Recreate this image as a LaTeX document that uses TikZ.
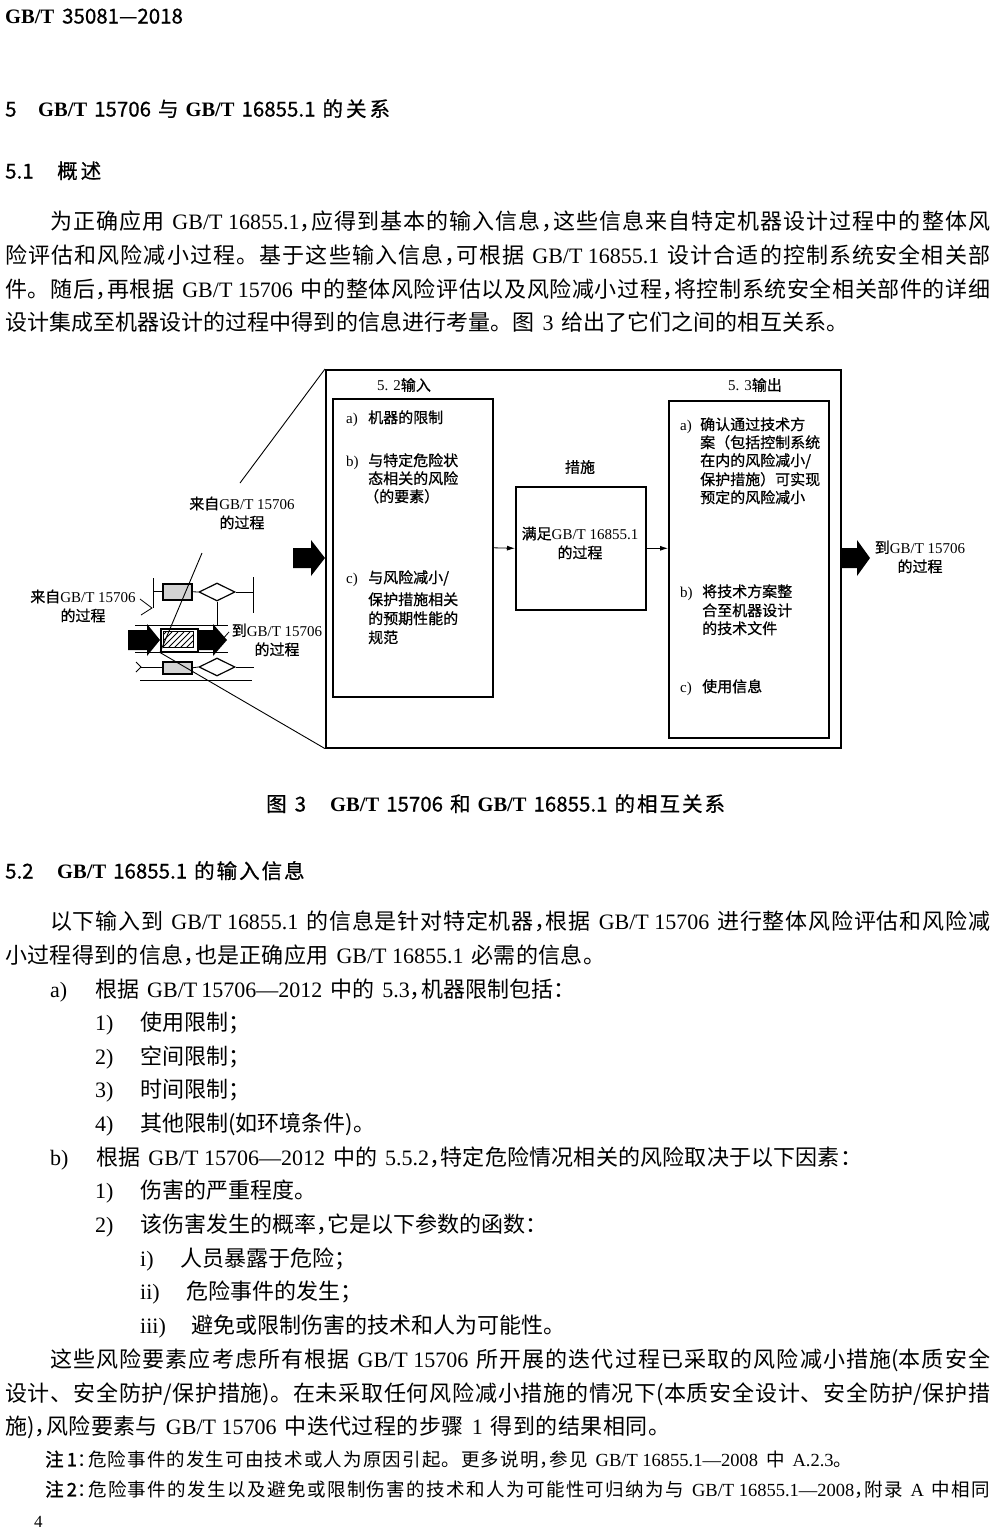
\documentclass[tikz,border=0pt]{standalone}
\usepackage{fontspec}
\setmainfont{Liberation Serif}
\newfontfamily\cjk{Noto Sans CJK SC}
\newfontfamily\cjkb[FakeBold=1.2]{Noto Sans CJK SC}
\newfontfamily\cjkm[FakeBold=0.7]{Noto Sans CJK SC}
\usetikzlibrary{arrows.meta,shapes.geometric}
\XeTeXinterchartokenstate=1
\newcount\cjkc
\newskip\cjkglue
\cjkglue=0pt
\def\cjkrange#1#2{\cjkc=#1\relax\loop\XeTeXcharclass\cjkc=7\relax\ifnum\cjkc<#2\relax\advance\cjkc by 1\relax\repeat}
\cjkrange{"3000}{"303F}
\cjkrange{"4E00}{"9FFF}
\cjkrange{"FF00}{"FFEF}
\XeTeXinterchartoks 7 7 = {\hskip\cjkglue\relax}
\newcommand\lat[1]{{\rmfamily #1}}
\newcommand\jl[2]{\hbox to #1pt{\cjkglue=0pt plus 1fil\relax #2}}
\newcommand\g{\hskip 8pt\relax}
\newcommand\cm{，\kern-.48em\relax}
\begin{document}
\begin{tikzpicture}[x=1pt,y=-1pt,
 body/.style={anchor=west,inner sep=0pt,font=\cjk\fontsize{22}{26}\selectfont,text height=19pt,text depth=4pt},
 head/.style={anchor=west,inner sep=0pt,font=\cjkm\fontsize{20.5}{24}\selectfont,text height=17pt,text depth=4pt},
 note/.style={anchor=west,inner sep=0pt,font=\cjk\fontsize{18.5}{22}\selectfont,text height=16pt,text depth=3.5pt},
 dt/.style={anchor=west,inner sep=0pt,font=\cjkm\fontsize{15}{18}\selectfont,text height=13pt,text depth=3pt},
 lbl/.style={inner sep=0pt,font=\cjkm\fontsize{15}{19}\selectfont,align=center},
 box/.style={draw,line width=1.6pt,inner sep=0pt,anchor=north west},
 fl/.style={line width=0.8pt},
 sarrow/.style={line width=0.8pt,-{Latex[length=8pt,width=5pt]}},
]
\fill[white] (0,0) rectangle (1000,1537);
\useasboundingbox (0,0) rectangle (1000,1537);

% ---------- page text ----------
\node[head] (hdr) at (5,17) {\lat{\bfseries GB/T}\hspace{8pt}35081—2018};
\node[head] (s5n) at (5,110) {5};
\node[head] (s5) at (38,110) {\lat{\bfseries GB/T}\hspace{7pt}15706\hspace{7pt}与\hspace{7pt}\lat{\bfseries GB/T}\hspace{7pt}16855.1\hspace{7pt}的\hspace{3pt}关\hspace{3pt}系};
\node[head] (s51n) at (5,172) {5.1};
\node[head] (s51) at (57,172) {概\hspace{3pt}述};

\node[body] (p1a) at (50,222) {\jl{940}{为正确应用\g{}\lat{GB/T 16855.1}\cm 应得到基本的输入信息\cm 这些信息来自特定机器设计过程中的整体风}};
\node[body] (p1b) at (5,256) {\jl{985}{险评估和风险减小过程。基于这些输入信息\cm 可根据\g{}\lat{GB/T 16855.1}\g{}设计合适的控制系统安全相关部}};
\node[body] (p1c) at (5,290) {\jl{985}{件。随后\cm 再根据\g{}\lat{GB/T 15706}\g{}中的整体风险评估以及风险减小过程\cm 将控制系统安全相关部件的详细}};
\node[body] (p1d) at (5,323) {\jl{843}{设计集成至机器设计的过程中得到的信息进行考量。图\g{}\lat{3}\g{}给出了它们之间的相互关系。}};

\node[head] (capn) at (266,805) {图\hspace{8pt}3};
\node[head] (cap) at (330,805) {\lat{\bfseries GB/T}\hspace{7pt}15706\hspace{7pt}和\hspace{7pt}\lat{\bfseries GB/T}\hspace{7pt}16855.1\hspace{7pt}的\hspace{2pt}相\hspace{2pt}互\hspace{2pt}关\hspace{2pt}系};

\node[head] (s52n) at (5,872) {5.2};
\node[head] (s52) at (57,872) {\lat{\bfseries GB/T}\hspace{7pt}16855.1\hspace{7pt}的\hspace{2pt}输\hspace{2pt}入\hspace{2pt}信\hspace{2pt}息};

\node[body] (p2a) at (50,922) {\jl{940}{以下输入到\g{}\lat{GB/T 16855.1}\g{}的信息是针对特定机器\cm 根据\g{}\lat{GB/T 15706}\g{}进行整体风险评估和风险减}};
\node[body] (p2b) at (5,956) {\jl{600}{小过程得到的信息\cm 也是正确应用\g{}\lat{GB/T 16855.1}\g{}必需的信息。}};

\node[body] (la) at (50,990) {\lat{a)}};
\node[body] (lat) at (95,990) {\jl{480}{根据\g{}\lat{GB/T 15706—2012}\g{}中的\g{}\lat{5.3}\cm 机器限制包括：}};
\node[body] (l1) at (95,1023) {\lat{1)}};
\node[body] (l1t) at (140,1023) {使用限制；};
\node[body] (l2) at (95,1057) {\lat{2)}};
\node[body] (l2t) at (140,1057) {空间限制；};
\node[body] (l3) at (95,1090) {\lat{3)}};
\node[body] (l3t) at (140,1090) {时间限制；};
\node[body] (l4) at (95,1124) {\lat{4)}};
\node[body] (l4t) at (140,1124) {其他限制(如环境条件)。};
\node[body] (lb) at (50,1158) {\lat{b)}};
\node[body] (lbt) at (96,1158) {\jl{766}{根据\g{}\lat{GB/T 15706—2012}\g{}中的\g{}\lat{5.5.2}\cm 特定危险情况相关的风险取决于以下因素：}};
\node[body] (m1) at (95,1191) {\lat{1)}};
\node[body] (m1t) at (140,1191) {伤害的严重程度。};
\node[body] (m2) at (95,1225) {\lat{2)}};
\node[body] (m2t) at (140,1225) {该伤害发生的概率\cm 它是以下参数的函数：};
\node[body] (r1) at (140,1259) {\lat{i)}};
\node[body] (r1t) at (180,1259) {人员暴露于危险；};
\node[body] (r2) at (140,1292) {\lat{ii)}};
\node[body] (r2t) at (186,1292) {危险事件的发生；};
\node[body] (r3) at (140,1326) {\lat{iii)}};
\node[body] (r3t) at (191,1326) {避免或限制伤害的技术和人为可能性。};

\node[body] (p3a) at (50,1360) {\jl{940}{这些风险要素应考虑所有根据\g{}\lat{GB/T 15706}\g{}所开展的迭代过程已采取的风险减小措施(本质安全}};
\node[body] (p3b) at (5,1394) {\jl{985}{设计、安全防护/保护措施)。在未采取任何风险减小措施的情况下(本质安全设计、安全防护/保护措}};
\node[body] (p3c) at (5,1427) {\jl{665}{施)\cm 风险要素与\g{}\lat{GB/T 15706}\g{}中迭代过程的步骤\g{}\lat{1}\g{}得到的结果相同。}};

\node[note] (n1) at (45,1460) {\jl{807}{{\cjkb 注\,1}：\kern-.4em\relax 危险事件的发生可由技术或人为原因引起。更多说明\cm 参见\g{}\lat{GB/T 16855.1—2008}\g{}中\g{}\lat{A.2.3}。}};
\node[note] (n2) at (45,1490) {\jl{945}{{\cjkb 注\,2}：\kern-.4em\relax 危险事件的发生以及避免或限制伤害的技术和人为可能性可归纳为与\g{}\lat{GB/T 16855.1—2008}\cm 附录\g{}\lat{A}\g{}中相同}};
\node[anchor=west,inner sep=0pt,font=\rmfamily\fontsize{17}{20}\selectfont] (pg) at (34,1522) {4};

% ---------- diagram ----------
\node[box,minimum width=515pt,minimum height=378pt] (outer) at (325,369) {};
\node[box,minimum width=160pt,minimum height=298pt] (inbox) at (332,398) {};
\node[box,minimum width=130pt,minimum height=123pt] (mid) at (515,486) {};
\node[box,minimum width=160pt,minimum height=337pt] (outbox) at (668,400) {};

\node[lbl] (tin) at (404,385) {\lat{5. 2}输入};
\node[lbl] (tout) at (755,385) {\lat{5. 3}输出};
\node[lbl] (tmid) at (580,467) {措施};
\node[lbl] (midtxt) at (580,543) {满足\lat{GB/T 16855.1}\\的过程};

\node[dt] (ia) at (346,418) {\lat{a)}};
\node[dt] (iat) at (368,418) {机器的限制};
\node[dt] (ib) at (346,461) {\lat{b)}};
\node[dt] (ib1) at (368,461) {与特定危险状};
\node[dt] (ib2) at (368,479) {态相关的风险};
\node[dt] (ib3) at (364,497) {（的要素）};
\node[dt] (ic) at (346,578) {\lat{c)}};
\node[dt] (ic1) at (368,578) {与风险减小/};
\node[dt] (ic2) at (368,600) {保护措施相关};
\node[dt] (ic3) at (368,619) {的预期性能的};
\node[dt] (ic4) at (368,638) {规范};

\node[dt] (oa) at (680,425) {\lat{a)}};
\node[dt] (oa1) at (700,425) {确认通过技术方};
\node[dt] (oa2) at (700,443) {案（包括控制系统};
\node[dt] (oa3) at (700,461) {在内的风险减小/};
\node[dt] (oa4) at (700,480) {保护措施）可实现};
\node[dt] (oa5) at (700,498) {预定的风险减小};
\node[dt] (ob) at (680,592) {\lat{b)}};
\node[dt] (ob1) at (702,592) {将技术方案整};
\node[dt] (ob2) at (702,611) {合至机器设计};
\node[dt] (ob3) at (702,629) {的技术文件};
\node[dt] (oc) at (680,687) {\lat{c)}};
\node[dt] (oc1) at (702,687) {使用信息};

\draw[sarrow] (inbox.east) -- (mid.west);
\draw[sarrow] (mid.east) -- (mid.east -| outbox.west);

% big block arrows
\fill (293,548) -- (311,548) -- (311,540) -- (325,558) -- (311,576) -- (311,568) -- (293,568) -- cycle;
\fill (840,548) -- (857,548) -- (857,540) -- (870,558) -- (857,576) -- (857,568) -- (840,568) -- cycle;

\node[lbl] (to2) at (920,557) {到\lat{GB/T 15706}\\的过程};
\node[lbl] (from1) at (242,513) {来自\lat{GB/T 15706}\\的过程};
\node[lbl] (from2) at (83,606) {来自\lat{GB/T 15706}\\的过程};
\node[lbl] (to1) at (277,640) {到\lat{GB/T 15706}\\的过程};

% miniature flowchart
\node[draw,line width=1.5pt,fill=gray!35,minimum width=29pt,minimum height=16pt,inner sep=0pt,anchor=north west] (fb1) at (162,583) {};
\node[draw,diamond,aspect=2,minimum width=36pt,minimum height=18pt,inner sep=0pt,line width=1.2pt] (fd1) at (217,592) {};
\node[draw,line width=1.5pt,fill=gray!35,minimum width=29pt,minimum height=12pt,inner sep=0pt,anchor=north west] (fb2) at (162,661) {};
\node[draw,diamond,aspect=2,minimum width=36pt,minimum height=18pt,inner sep=0pt,line width=1.2pt] (fd2) at (217,667) {};
\node[draw,line width=1.5pt,minimum width=37pt,minimum height=23pt,inner sep=0pt,anchor=north west] (hatch) at (160,628) {};
\draw[line width=1pt] (163.5,631.5) rectangle (193.5,647.5);
\begin{scope}
\clip (164,632) rectangle (193,647);
\foreach \k in {0,...,8} \draw[line width=0.9pt] (148+\k*6,650) -- ++(18,-18);
\end{scope}

\draw[fl] (153,578) -- (153,608);
\draw[fl] (fb1.west) -- ++(-9,0);
\draw[fl] (fb1.east) -- (fd1.west);
\draw[fl] (fd1.east) -- ++(18,0);
\draw[fl] (253,577) -- (253,613);
\draw[fl] (fd1.south) -- ++(0,23);
\draw[fl] (135,625) -- (228,625);
\draw[fl] (135,652) -- (228,652);
\draw[fl] (fb2.west) -- ++(-22,0);
\draw[fl] (136,662) -- (141,667) -- (136,672);
\draw[fl] (fb2.east) -- (fd2.west);
\draw[fl] (fd2.east) -- ++(18,0);
\draw[fl] (140,680) -- (252,680);
\draw[fl] (140,599) -- (152,608) -- (141,615);
\draw[fl] (229,632) -- (221,641);

\fill (128,630) -- (147,630) -- (147,624) -- (160,640) -- (147,656) -- (147,650) -- (128,650) -- cycle;
\fill (198,630) -- (213,630) -- (213,624) -- (227,640) -- (213,656) -- (213,650) -- (198,650) -- cycle;

% zoom lines
\draw[line width=0.9pt] (outer.north west) -- (240,483);
\draw[line width=0.9pt] (202,553) -- (hatch.south west);
\draw[line width=0.9pt] (hatch.south west) -- (outer.south west);
\end{tikzpicture}
\end{document}
